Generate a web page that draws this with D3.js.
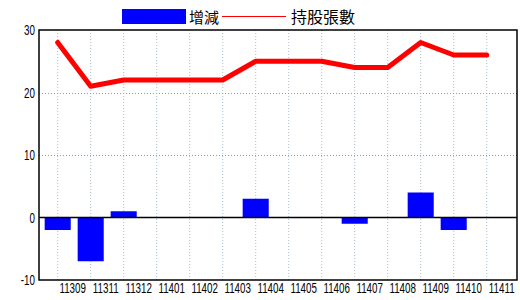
<!DOCTYPE html>
<html>
<head>
<meta charset="utf-8">
<script src="https://cdn.jsdelivr.net/npm/d3@7/dist/d3.min.js"></script>
<style>
  html, body { margin: 0; padding: 0; background: #fff; }
  svg { display: block; }
</style>
</head>
<body>
<svg id="chart" width="520" height="300"></svg>
<script>
const categories = ["11309","11311","11312","11401","11402","11403","11404","11405","11406","11407","11408","11409","11410","11411"];
const changeValues = [-2, -7, 1, 0, 0, 0, 3, 0, 0, -1, 0, 4, -2, 0];
const holderValues = [28, 21, 22, 22, 22, 22, 25, 25, 25, 24, 24, 28, 26, 26];
const yTicks = [-10, 0, 10, 20, 30];
const seriesNames = ["增減", "持股張數"];

const svg = d3.select("#chart");
const plot = { left: 39, top: 30, right: 517, bottom: 280 };
const step = 33;
const bandStart = 41.2;

const x = d3.scaleBand()
  .domain(categories)
  .range([bandStart, bandStart + step * categories.length])
  .paddingInner(0.21)
  .paddingOuter(0.105);
const y = d3.scaleLinear().domain([-10, 30]).range([plot.bottom, plot.top]);
const cx = d => x(d) + x.bandwidth() / 2;

const numFont = "'Liberation Sans', Arial, sans-serif";
const cjkFont = "'Noto Sans CJK TC', 'Noto Sans CJK SC', sans-serif";
const squeeze = 0.7;

// vertical grid
svg.append("g").selectAll("line").data(categories).join("line")
  .attr("x1", d => cx(d)).attr("x2", d => cx(d))
  .attr("y1", plot.top).attr("y2", plot.bottom)
  .attr("stroke", "#a9bfd0").attr("stroke-width", 1)
  .attr("stroke-dasharray", "1,2");

// horizontal grid
svg.append("g").selectAll("line").data(yTicks.filter(v => v !== 0 && v !== -10 && v !== 30)).join("line")
  .attr("x1", plot.left).attr("x2", plot.right)
  .attr("y1", d => Math.round(y(d)) + 0.5).attr("y2", d => Math.round(y(d)) + 0.5)
  .attr("stroke", "#999").attr("stroke-width", 1)
  .attr("stroke-dasharray", "1,2");

// bars
svg.append("g").selectAll("rect").data(categories).join("rect")
  .attr("x", d => x(d))
  .attr("width", x.bandwidth())
  .attr("y", (d, i) => y(Math.max(0, changeValues[i])))
  .attr("height", (d, i) => Math.abs(y(changeValues[i]) - y(0)))
  .attr("fill", "#0000ff");

// zero line
svg.append("line")
  .attr("x1", plot.left).attr("x2", plot.right)
  .attr("y1", y(0)).attr("y2", y(0))
  .attr("stroke", "#000").attr("stroke-width", 1.5);

// holders line
const line = d3.line().x((d, i) => cx(categories[i])).y(d => y(d));
svg.append("path")
  .datum(holderValues)
  .attr("d", line)
  .attr("fill", "none")
  .attr("stroke", "#ff0000")
  .attr("stroke-width", 5)
  .attr("stroke-linejoin", "round")
  .attr("stroke-linecap", "round");

// plot border
svg.append("rect")
  .attr("x", plot.left).attr("y", plot.top)
  .attr("width", plot.right - plot.left).attr("height", plot.bottom - plot.top)
  .attr("fill", "none").attr("stroke", "#000").attr("stroke-width", 1.5);

// y labels
svg.append("g").selectAll("text").data(yTicks).join("text")
  .attr("transform", d => `translate(35,${y(d)}) scale(${squeeze},1)`)
  .attr("dy", "0.36em")
  .attr("text-anchor", "end")
  .attr("font-family", numFont).attr("font-size", 14)
  .attr("fill", "#000")
  .text(d => d);

// x labels
svg.append("g").selectAll("text").data(categories).join("text")
  .attr("transform", d => `translate(${cx(d) + 15},292.5) scale(${squeeze},1)`)
  .attr("text-anchor", "middle")
  .attr("font-family", numFont).attr("font-size", 14)
  .attr("fill", "#000")
  .text(d => d);

// legend
const lg = svg.append("g");
lg.append("rect").attr("x", 122).attr("y", 9).attr("width", 64).attr("height", 15).attr("fill", "#0000ff");
lg.append("text").attr("x", 189).attr("y", 23)
  .attr("font-family", cjkFont).attr("font-size", 15).attr("fill", "#000")
  .text(seriesNames[0]);
lg.append("line").attr("x1", 222).attr("x2", 286).attr("y1", 16.5).attr("y2", 16.5)
  .attr("stroke", "#ff0000").attr("stroke-width", 1);
lg.append("text").attr("x", 291).attr("y", 23)
  .attr("font-family", cjkFont).attr("font-size", 16).attr("fill", "#000")
  .text(seriesNames[1]);
</script>
</body>
</html>
